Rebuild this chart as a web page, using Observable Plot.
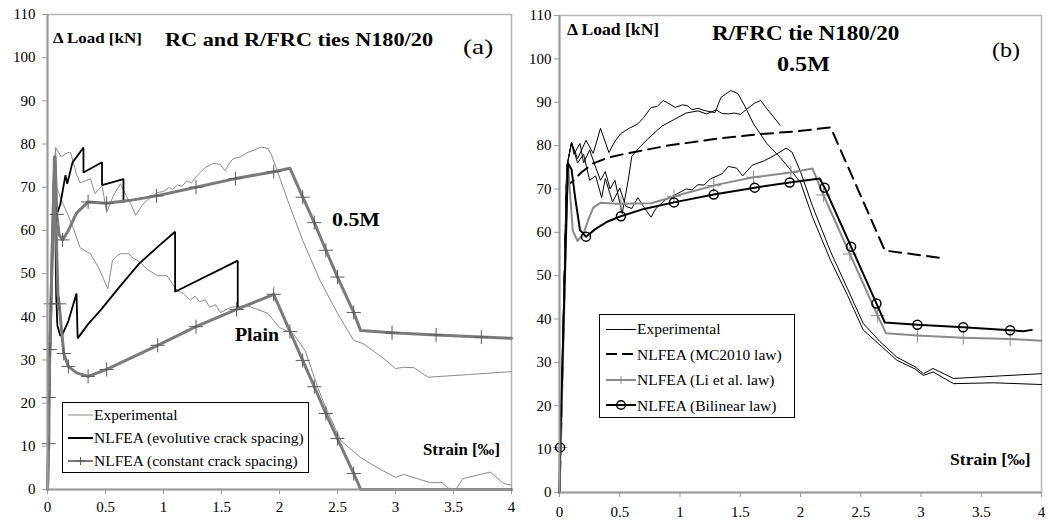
<!DOCTYPE html>
<html>
<head>
<meta charset="utf-8">
<script src="https://cdn.jsdelivr.net/npm/d3@7"></script>
<script src="https://cdn.jsdelivr.net/npm/@observablehq/plot@0.6"></script>
<style>
  body { margin: 0; background: #fff; font-family: "Liberation Serif", "Times New Roman", serif; }
  #wrap { position: relative; width: 1049px; height: 522px; display: flex; overflow: hidden; }
  .panel { position: relative; }
  .note { position: absolute; white-space: nowrap; transform-origin: 0 0; color: #000; line-height: 1; font-family: "Liberation Serif", serif; }
  .b { font-weight: bold; }
  .legend { position: absolute; box-sizing: border-box; border: 1px solid #000; background: #fff; line-height: 1; font-family: "Liberation Serif", serif; }
  .legend .row { display: flex; align-items: center; white-space: nowrap; }
  .legend svg { flex: none; }
</style>
</head>
<body>
<div id="wrap">
  <div class="panel" id="pa"></div>
  <div class="panel" id="pb"></div>
</div>
<script>
// ---------- axes ----------
const strainTicks = [0, 0.5, 1, 1.5, 2, 2.5, 3, 3.5, 4];
const loadTicks = [0, 10, 20, 30, 40, 50, 60, 70, 80, 90, 100, 110];

// ---------- (a) RC and R/FRC ties N180/20 : [strain ‰, Δload kN] ----------
const expA_05M = [[0,0],[0.055,70],[0.07,79.2],[0.12,77],[0.17,78],[0.2,78],[0.22,76],[0.25,73],[0.28,71],[0.33,71.5],[0.37,72],[0.41,68.5],[0.44,69.5],[0.47,70.4],[0.51,64.2],[0.57,68.2],[0.63,70.8],[0.68,68],[0.72,66],[0.76,63.5],[0.82,66],[0.88,67.5],[0.95,68.8],[1.0,69],[1.05,70],[1.08,69.5],[1.12,70.5],[1.16,70.2],[1.2,71.5],[1.24,71],[1.29,72.7],[1.32,73.5],[1.36,74.6],[1.43,75.5],[1.49,75.3],[1.53,73.8],[1.57,75.6],[1.6,76.6],[1.66,77],[1.72,78],[1.78,78.6],[1.84,79.3],[1.9,79],[1.93,77.5],[1.97,74.6],[2.07,67],[2.2,57.7],[2.35,48.4],[2.5,40.8],[2.64,34.5],[2.72,33.8],[2.9,30.3],[3.0,28],[3.07,28.3],[3.16,28.2],[3.28,26],[3.62,26.6],[4.0,27.3]];
const expA_plain = [[0,0],[0.055,70],[0.07,79],[0.08,70],[0.12,67],[0.17,64],[0.23,60],[0.28,56],[0.33,55.2],[0.37,54.6],[0.44,51.4],[0.52,46.5],[0.56,53],[0.6,54.2],[0.63,54.6],[0.7,54.6],[0.74,53.5],[0.78,53],[0.86,51],[0.95,49.5],[1.03,49.5],[1.08,47.5],[1.12,46],[1.17,45.4],[1.23,43.8],[1.27,44.8],[1.31,43.5],[1.36,43.9],[1.4,42.2],[1.45,42.8],[1.49,41],[1.58,42.2],[1.65,42.4],[1.72,42.6],[1.8,41.8],[1.9,40.8],[2.0,37.5],[2.12,36],[2.22,32.2],[2.33,23.6],[2.41,18.3],[2.53,11.3],[2.7,7.4],[2.84,5.1],[3.0,2.8],[3.07,3.5],[3.2,2.4],[3.3,1.6],[3.4,1.6],[3.47,0],[3.52,0],[3.58,2.5],[3.76,3.7],[3.82,4],[3.93,1.4],[4,1]];
const evoA_05M = [[0,0],[0.03,43],[0.065,77],[0.08,63.7],[0.11,66],[0.155,72.8],[0.17,70.8],[0.215,75.7],[0.31,79.2],[0.31,73.4],[0.47,75.8],[0.47,70.5],[0.655,71.9],[0.655,66.6]];
const evoA_plain = [[0,0],[0.03,43],[0.06,77],[0.075,45],[0.085,38],[0.11,35.6],[0.13,36],[0.18,39],[0.25,45.4],[0.26,35],[0.35,38.3],[0.46,41.6],[0.63,47.2],[0.79,52.3],[0.95,56.2],[1.1,59.7],[1.1,45.8],[1.64,53],[1.64,42]];
const conA_05M = [[0,0],[0.01,10.6],[0.012,21.3],[0.02,32.4],[0.03,43],[0.045,60],[0.065,77],[0.08,63.7],[0.1,59],[0.13,57.8],[0.18,60],[0.25,64],[0.35,66.6],[0.51,66.3],[0.7,66.9],[0.94,68],[1.28,70],[1.62,72],[1.95,73.6],[2.09,74.4],[2.2,67.7],[2.3,61.8],[2.4,55.4],[2.5,49.2],[2.64,41],[2.7,36.8],[2.97,36.3],[3.35,35.8],[3.74,35.3],[4,35]];
const conA_05M_steps = [[0.01,10.6],[0.012,21.3],[0.02,32.4],[0.03,43],[0.08,63.7],[0.13,57.8],[0.35,66.6],[0.51,66.3],[0.94,68],[1.28,70],[1.62,72],[1.95,73.6],[2.2,67.7],[2.3,61.8],[2.4,55.4],[2.5,49.2],[2.64,41],[2.97,36.3],[3.35,35.8],[3.74,35.3]];
const conA_plain = [[0,0],[0.01,10.6],[0.012,21.3],[0.02,32.4],[0.03,43],[0.045,60],[0.06,77],[0.075,60],[0.09,45],[0.1,43],[0.14,31.5],[0.18,28.5],[0.25,27],[0.35,26.2],[0.51,27.8],[0.95,33.4],[1.28,37.7],[1.63,41.7],[1.95,45.2],[2.09,36.6],[2.2,29.9],[2.3,23.8],[2.4,17.6],[2.5,11.8],[2.64,3.7],[2.7,0],[4,0]];
const conA_plain_steps = [[0.1,43],[0.14,31.5],[0.18,28.5],[0.35,26.2],[0.51,27.8],[0.95,33.4],[1.28,37.7],[1.63,41.7],[1.95,45.2],[2.09,36.6],[2.2,29.9],[2.3,23.8],[2.4,17.6],[2.5,11.8],[2.64,3.7]];

// ---------- (b) R/FRC tie N180/20 0.5M : [strain ‰, Δload kN] ----------
const expB_1 = [[0,0],[0.06,75],[0.1,80.7],[0.15,77],[0.22,81.2],[0.28,78.2],[0.34,84],[0.41,78.4],[0.46,81],[0.51,82.8],[0.58,84],[0.65,85],[0.7,86.5],[0.76,88.8],[0.81,89],[0.86,90.4],[0.92,89.5],[0.96,88.8],[1.02,89.4],[1.06,89.2],[1.1,88.3],[1.15,88.6],[1.2,88.1],[1.29,87.6],[1.34,91.1],[1.42,92.7],[1.48,92],[1.54,89],[1.61,85],[1.72,80.5],[1.83,77.3],[1.9,75],[2.0,71.5],[2.1,63.5],[2.25,53.5],[2.39,45.5],[2.52,37.5],[2.66,34],[2.8,30.5],[2.95,28.5],[3.02,27],[3.1,27.8],[3.27,25.1],[3.6,25.3],[4,24.9]];
const expB_2 = [[0,0],[0.06,75],[0.1,80.7],[0.12,78],[0.17,80.5],[0.2,76],[0.25,79],[0.3,75],[0.34,72],[0.38,74],[0.42,70],[0.46,72],[0.52,64.3],[0.57,72],[0.6,77.5],[0.66,79.5],[0.75,82],[0.85,84.5],[0.95,86],[1.05,87.5],[1.15,88],[1.22,87.3],[1.3,88.2],[1.35,87.4],[1.4,87.3],[1.45,87.5],[1.5,87.2],[1.55,88.3],[1.62,89.8],[1.67,90.4],[1.72,88.5],[1.78,86.5],[1.83,84.7]];
const expB_3 = [[0,0],[0.06,75],[0.1,80.7],[0.15,76],[0.2,78],[0.25,72],[0.3,73],[0.35,68],[0.38,72.4],[0.44,67],[0.5,70.2],[0.55,66],[0.6,65.5],[0.65,68],[0.72,65],[0.76,63.5],[0.8,65.5],[0.88,67.5],[0.95,68.5],[1.05,70],[1.1,69.8],[1.15,71],[1.2,70.9],[1.25,72.3],[1.35,73.5],[1.4,75.2],[1.47,74.8],[1.52,73],[1.6,75.5],[1.7,76.5],[1.8,78],[1.88,79.4],[1.93,78.5],[2.0,74],[2.1,66],[2.25,55.5],[2.39,47],[2.52,39],[2.66,34.8],[2.8,31.2],[2.95,29],[3.02,27.4],[3.1,28.6],[3.27,26.3],[3.6,26.8],[4,27.4]];
const mc2010B = [[0,0],[0.01,10.4],[0.06,71],[0.1,71.5],[0.18,73.8],[0.28,75.9],[0.4,77.2],[0.56,78.2],[0.9,80],[1.31,81.6],[1.65,82.6],[1.97,83.3],[2.25,84.2],[2.7,55.8],[3.19,54]];
const liB = [[0,0],[0.01,10.4],[0.07,76],[0.09,68],[0.11,60.4],[0.15,58],[0.2,59.7],[0.24,63],[0.28,65.7],[0.34,66.8],[0.48,66.6],[0.76,66.7],[1.03,68.9],[1.31,71],[1.61,72.7],[1.92,73.8],[2.1,74.7],[2.19,68.6],[2.41,55],[2.64,40.8],[2.71,36.7],[2.97,36.2],[3.35,35.7],[3.74,35.4],[4,35]];
const liB_steps = [[0.005,10.4],[0.51,66.6],[0.95,68.3],[1.28,70.8],[1.61,72.7],[1.92,73.8],[2.19,68.6],[2.41,55],[2.64,40.8],[2.97,36.2],[3.35,35.7],[3.74,35.4]];
const bilinearB = [[0,0],[0.005,10.4],[0.07,76],[0.1,74.5],[0.13,68],[0.17,60.5],[0.22,59],[0.3,60.8],[0.4,62.5],[0.51,63.7],[0.7,65.4],[0.95,66.9],[1.28,68.7],[1.62,70.3],[1.91,71.5],[2.16,72.4],[2.2,70.3],[2.42,56.7],[2.63,43.6],[2.7,39.2],[2.97,38.7],[3.35,38.1],[3.74,37.4],[3.85,37.2],[3.92,37.5]];
const bilinearB_steps = [[0.005,10.4],[0.22,59],[0.51,63.7],[0.95,66.9],[1.28,68.7],[1.62,70.3],[1.91,71.5],[2.2,70.3],[2.42,56.7],[2.63,43.6],[2.97,38.7],[3.35,38.1],[3.74,37.4]];

// ---------- drawing ----------
const X = d => d[0], Y = d => d[1];
const GREY = "#8a8a8a", DARK = "#7a7a7a";

function chart(box, marks) {
  return Plot.plot({
    width: box.width, height: 522,
    marginLeft: box.left, marginRight: box.right, marginTop: box.top, marginBottom: box.bottom,
    style: { fontFamily: "'Liberation Serif', serif", fontSize: "15px", color: "#000", background: "#fff", overflow: "visible" },
    x: { domain: [0, 4], label: null },
    y: { domain: [0, 110], label: null },
    marks: [
      Plot.frame({ stroke: "#b4b4b4", strokeWidth: 1.5 }),
      Plot.axisX({ ticks: strainTicks, tickFormat: d => String(d), tickSize: 5, tickPadding: box.xpad, stroke: "#999", fill: "#000", fontSize: 15, label: null }),
      Plot.axisY({ ticks: loadTicks, tickSize: 5, tickPadding: box.ypad, stroke: "#999", fill: "#000", fontSize: 15, label: null }),
      ...marks,
      Plot.ruleX([0], { stroke: "#9a9a9a", strokeWidth: 2 }),
      Plot.ruleY([0], { stroke: "#9a9a9a", strokeWidth: 2 })
    ]
  });
}

const plotA = chart({ width: 520, left: 47, right: 9, top: 14, bottom: 33, xpad: 7, ypad: 7 }, [
  Plot.line(expA_05M, { x: X, y: Y, stroke: GREY, strokeWidth: 1 }),
  Plot.line(expA_plain, { x: X, y: Y, stroke: GREY, strokeWidth: 1 }),
  Plot.line(evoA_05M, { x: X, y: Y, stroke: "#000", strokeWidth: 1.8, strokeLinejoin: "miter" }),
  Plot.line(evoA_plain, { x: X, y: Y, stroke: "#000", strokeWidth: 1.8, strokeLinejoin: "miter" }),
  Plot.line(conA_05M, { x: X, y: Y, stroke: DARK, strokeWidth: 3 }),
  Plot.line(conA_plain, { x: X, y: Y, stroke: DARK, strokeWidth: 3 }),
  Plot.dot(conA_05M_steps, { x: X, y: Y, symbol: "plus", r: 4.6, stroke: "#5a5a5a", strokeWidth: 1 }),
  Plot.dot(conA_plain_steps, { x: X, y: Y, symbol: "plus", r: 4.6, stroke: "#5a5a5a", strokeWidth: 1 })
]);

const plotB = chart({ width: 529, left: 39, right: 8, top: 15, bottom: 30, xpad: 9, ypad: 3 }, [
  Plot.line(expB_1, { x: X, y: Y, stroke: "#000", strokeWidth: 1 }),
  Plot.line(expB_2, { x: X, y: Y, stroke: "#000", strokeWidth: 1 }),
  Plot.line(expB_3, { x: X, y: Y, stroke: "#000", strokeWidth: 1 }),
  Plot.line(mc2010B, { x: X, y: Y, stroke: "#000", strokeWidth: 2, strokeDasharray: "12,7" }),
  Plot.line(liB, { x: X, y: Y, stroke: GREY, strokeWidth: 2 }),
  Plot.dot(liB_steps, { x: X, y: Y, symbol: "plus", r: 4.6, stroke: GREY, strokeWidth: 1 }),
  Plot.line(bilinearB, { x: X, y: Y, stroke: "#000", strokeWidth: 2 }),
  Plot.dot(bilinearB_steps, { x: X, y: Y, r: 4.5, stroke: "#000", strokeWidth: 1.5, fill: "none" })
]);

document.getElementById("pa").append(plotA);
document.getElementById("pb").append(plotB);

// ---------- text annotations ----------
const wrap = document.getElementById("wrap");
function note(text, left, top, size, sx, bold = true) {
  const el = document.createElement("div");
  el.className = "note" + (bold ? " b" : "");
  el.textContent = text;
  el.style.left = left + "px";
  el.style.top = top + "px";
  el.style.fontSize = size + "px";
  el.style.transform = `scaleX(${sx})`;
  wrap.append(el);
}
note("Δ Load [kN]", 53, 30.5, 15, 1.13);
note("RC and R/FRC ties N180/20", 165, 29.5, 19, 1.17);
note("(a)", 463, 36.5, 21, 1.3, false);
note("0.5M", 332, 209.5, 19, 1.15);
note("Plain", 235, 326, 18, 1.1);
note("Strain [‰]", 423, 442, 16, 1.05);

note("Δ Load [kN]", 567, 22, 16, 1.1);
note("R/FRC tie N180/20", 712, 23, 21, 1.1);
note("0.5M", 777, 53.5, 21, 1.15);
note("(b)", 992, 40, 20, 1.2, false);
note("Strain [‰]", 950, 452, 16, 1.1);

// ---------- legends ----------
function swatch(w, kind) {
  const m = w / 2;
  const parts = {
    thinGrey: `<line x1="0" y1="6" x2="${w}" y2="6" stroke="${GREY}" stroke-width="1"/>`,
    thinBlack: `<line x1="0" y1="6.5" x2="${w}" y2="6.5" stroke="#000" stroke-width="1"/>`,
    evo: `<line x1="0" y1="6" x2="${w}" y2="6" stroke="#000" stroke-width="2"/>`,
    con: `<line x1="0" y1="6" x2="${w}" y2="6" stroke="${DARK}" stroke-width="2"/><path d="M${m - 4},6H${m + 4}M${m},2V10" stroke="#5a5a5a" stroke-width="1"/>`,
    dash: `<line x1="0" y1="6" x2="${w}" y2="6" stroke="#000" stroke-width="2" stroke-dasharray="11,5"/>`,
    li: `<line x1="0" y1="6" x2="${w}" y2="6" stroke="${GREY}" stroke-width="2"/><path d="M${m - 4},6H${m + 4}M${m},2V10" stroke="${GREY}" stroke-width="1"/>`,
    bil: `<line x1="0" y1="6" x2="${w}" y2="6" stroke="#000" stroke-width="2"/><circle cx="${m}" cy="6" r="4.3" fill="none" stroke="#000" stroke-width="1.5"/>`
  };
  return `<svg width="${w}" height="12">${parts[kind]}</svg>`;
}
function legend(items, box) {
  const el = document.createElement("div");
  el.className = "legend";
  Object.assign(el.style, { left: box.left + "px", top: box.top + "px", width: box.width + "px", height: box.height + "px", paddingTop: box.padTop + "px", paddingLeft: box.padLeft + "px", fontSize: box.size + "px" });
  el.innerHTML = items.map(([kind, label]) =>
    `<div class="row" style="height:${box.row}px">${swatch(box.sw, kind)}<span style="margin-left:1px">${label}</span></div>`).join("");
  wrap.append(el);
}
legend([["thinGrey", "Experimental"], ["evo", "NLFEA (evolutive crack spacing)"], ["con", "NLFEA (constant crack spacing)"]],
  { left: 62, top: 402, width: 247, height: 71, padTop: 0, padLeft: 5, size: 15.5, row: 23, sw: 25 });
legend([["thinBlack", "Experimental"], ["dash", "NLFEA (MC2010 law)"], ["li", "NLFEA (Li et al. law)"], ["bil", "NLFEA (Bilinear law)"]],
  { left: 599, top: 314, width: 196, height: 104, padTop: 1, padLeft: 6, size: 15.5, row: 25.5, sw: 30 });
</script>
</body>
</html>
